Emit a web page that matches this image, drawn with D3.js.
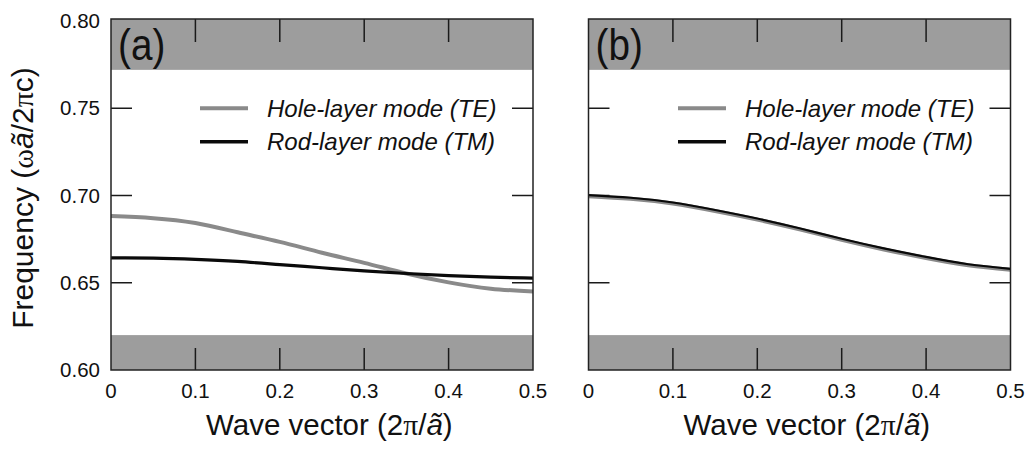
<!DOCTYPE html>
<html><head><meta charset="utf-8">
<script src="https://cdn.jsdelivr.net/npm/d3@7"></script>
<style>body{margin:0;background:#fff}svg{display:block}text{font-family:"Liberation Sans",Arial,sans-serif;fill:#111}</style>
</head><body><svg id="c" width="1033" height="449"></svg>
<script>
const kValues = [0, 0.05, 0.1, 0.15, 0.2, 0.25, 0.3, 0.35, 0.4, 0.45, 0.5];
const aHoleTE = [0.6882, 0.6870, 0.6842, 0.6789, 0.6734, 0.6672, 0.6614, 0.6553, 0.6502, 0.6466, 0.6450];
const aRodTM  = [0.6643, 0.6641, 0.6634, 0.6622, 0.6604, 0.6586, 0.6568, 0.6553, 0.6541, 0.6532, 0.6527];
const bRodTM  = [0.7002, 0.6987, 0.6960, 0.6917, 0.6868, 0.6812, 0.6752, 0.6697, 0.6648, 0.6606, 0.6580];
const bHoleTE = [0.6996, 0.6981, 0.6954, 0.6911, 0.6862, 0.6806, 0.6746, 0.6691, 0.6642, 0.6600, 0.6574];
const xTicks = [0, 0.1, 0.2, 0.3, 0.4, 0.5];
const yTicks = [0.60, 0.65, 0.70, 0.75, 0.80];
const bandGap = [0.620, 0.772];
const legendLabels = ["Hole-layer mode (TE)", "Rod-layer mode (TM)"];
const panelLabels = ["(a)", "(b)"];

const svg = d3.select("#c");
const y = d3.scaleLinear().domain([0.6, 0.8]).range([370, 21]);
const frameTop = 19, frameBottom = 370;
const panels = [
  {x0: 111, x1: 533, label: panelLabels[0], te: aHoleTE, tm: aRodTM, yl: true, lx: 200},
  {x0: 588.5, x1: 1010.5, label: panelLabels[1], te: bHoleTE, tm: bRodTM, yl: false, lx: 678}
];
panels.forEach(p => {
  const x = d3.scaleLinear().domain([0, 0.5]).range([p.x0, p.x1]);
  const g = svg.append("g");
  g.append("rect").attr("x", p.x0).attr("y", frameTop).attr("width", p.x1 - p.x0)
    .attr("height", y(bandGap[1]) - frameTop).attr("fill", "#9d9d9d");
  g.append("rect").attr("x", p.x0).attr("y", y(bandGap[0])).attr("width", p.x1 - p.x0)
    .attr("height", frameBottom - y(bandGap[0])).attr("fill", "#9d9d9d");
  const inner = xTicks.slice(1, -1);
  g.selectAll("line.xb").data(inner).join("line").attr("class", "xb")
    .attr("x1", d => x(d)).attr("x2", d => x(d)).attr("y1", frameBottom).attr("y2", frameBottom - 22)
    .style("stroke", "#1a1a1a").style("stroke-width", "1.5px");
  g.selectAll("line.xt").data(inner).join("line").attr("class", "xt")
    .attr("x1", d => x(d)).attr("x2", d => x(d)).attr("y1", frameTop).attr("y2", frameTop + 23)
    .style("stroke", "#1a1a1a").style("stroke-width", "1.5px");
  const innerY = yTicks.slice(1, -1);
  g.selectAll("line.yl").data(innerY).join("line").attr("class", "yl")
    .attr("x1", p.x0).attr("x2", p.x0 + 21).attr("y1", d => y(d)).attr("y2", d => y(d))
    .style("stroke", "#1a1a1a").style("stroke-width", "1.5px");
  g.selectAll("line.yr").data(innerY).join("line").attr("class", "yr")
    .attr("x1", p.x1).attr("x2", p.x1 - 21).attr("y1", d => y(d)).attr("y2", d => y(d))
    .style("stroke", "#1a1a1a").style("stroke-width", "1.5px");
  xTicks.forEach(t => {
    g.append("text").attr("x", x(t)).attr("y", 398).attr("text-anchor", "middle")
      .attr("font-size", 20.5).text(t === 0 ? "0" : d3.format(".1f")(t));
  });
  if (p.yl) {
    yTicks.forEach(t => {
      g.append("text").attr("x", 100).attr("y", y(t) + 7).attr("text-anchor", "end")
        .attr("font-size", 20.5).text(d3.format(".2f")(t));
    });
  }
  const xt = g.append("text").attr("x", p.x0 + 95).attr("y", 435).attr("font-size", 29.5);
  xt.append("tspan").text("Wave vector (2");
  xt.append("tspan").attr("font-family", "Liberation Serif, serif").text("π");
  xt.append("tspan").text("/");
  xt.append("tspan").attr("font-style", "italic").text("ã");
  xt.append("tspan").text(")");
  const line = d3.line().x((d, i) => x(kValues[i])).y(d => y(d)).curve(d3.curveNatural);
  g.append("path").datum(p.te).attr("d", line).attr("fill", "none").attr("stroke", "#8a8a8a").attr("stroke-width", 4);
  g.append("path").datum(p.tm).attr("d", line).attr("fill", "none").attr("stroke", "#0a0a0a").attr("stroke-width", p.yl ? 3.2 : 2.2);
  [["#8a8a8a", 4], ["#0a0a0a", 3.5]].forEach((s, i) => {
    const ly = y(0.75) + i * 33.5;
    g.append("line").attr("x1", p.lx).attr("x2", p.lx + 48).attr("y1", ly).attr("y2", ly).attr("stroke", s[0]).attr("stroke-width", s[1]);
    g.append("text").attr("x", p.lx + 67).attr("y", ly + 8.5).attr("font-size", 24).attr("font-style", "italic").text(legendLabels[i]);
  });
  g.append("rect").attr("x", p.x0).attr("y", frameTop).attr("width", p.x1 - p.x0).attr("height", frameBottom - frameTop)
    .attr("fill", "none").attr("stroke", "#222").attr("stroke-width", 1.5);
  g.append("text").attr("transform", `translate(${p.x0 + 7},60) scale(0.86,1)`).attr("font-size", 45).text(p.label);
});
const yt = svg.append("text").attr("transform", "translate(33,198) rotate(-90)").attr("text-anchor", "middle").attr("font-size", 30);
yt.append("tspan").text("Frequency (");
yt.append("tspan").attr("font-family", "Liberation Serif, serif").text("ω");
yt.append("tspan").attr("font-style", "italic").text("ã");
yt.append("tspan").text("/2");
yt.append("tspan").attr("font-family", "Liberation Serif, serif").text("π");
yt.append("tspan").text("c)");
</script></body></html>
